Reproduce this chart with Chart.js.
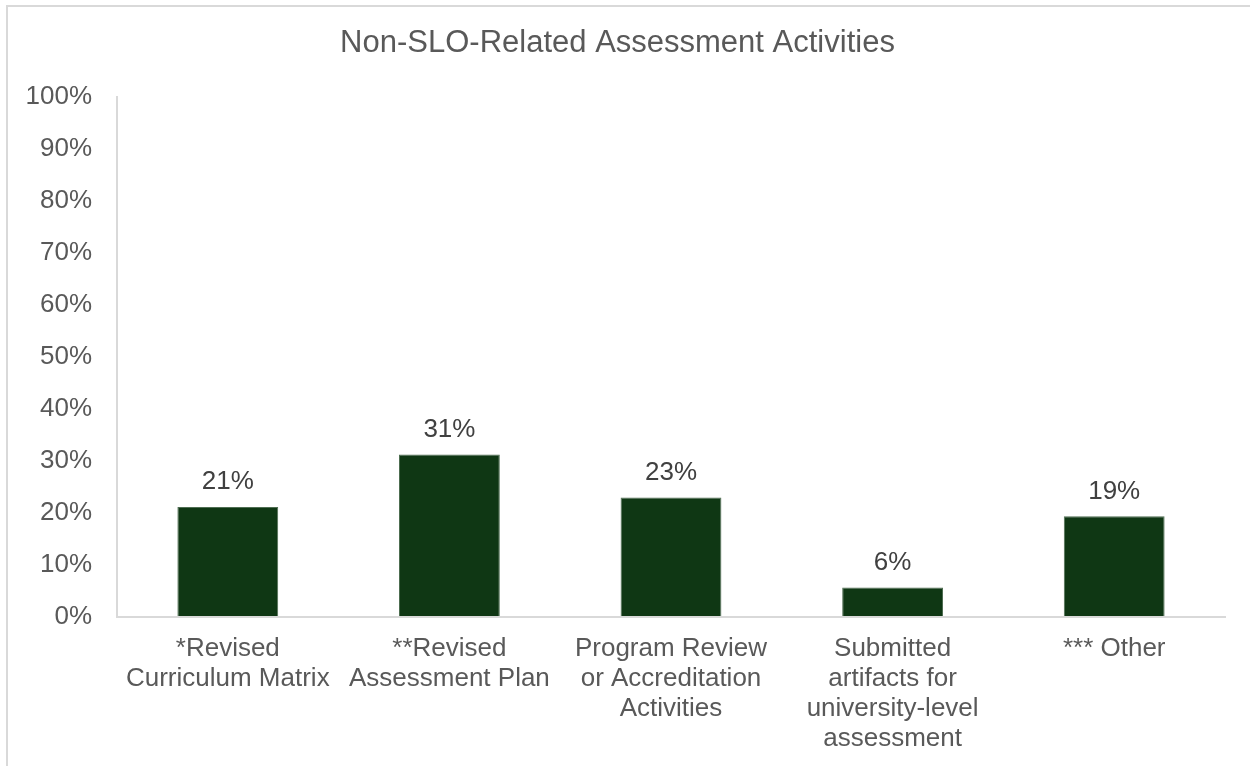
<!DOCTYPE html>
<html>
<head>
<meta charset="utf-8">
<script src="https://cdn.jsdelivr.net/npm/chart.js@4.4.1/dist/chart.umd.min.js"></script>
<style>
  html, body { margin: 0; padding: 0; background: #ffffff; overflow: hidden; }
  #wrap { position: relative; width: 1250px; height: 766px; overflow: hidden; }
  #frame {
    position: absolute; left: 6px; top: 5px; width: 1400px; height: 900px;
    border-left: 2px solid #d9d9d9; border-top: 2px solid #d9d9d9;
  }
  #chart { position: absolute; left: 0; top: 0; }
</style>
</head>
<body>
<div id="wrap">
  <div id="frame"></div>
  <canvas id="chart" width="1250" height="766"></canvas>
</div>
<script>
// Categories (multi-line axis labels)
const categories = [
  ["*Revised", "Curriculum Matrix"],
  ["**Revised", "Assessment Plan"],
  ["Program Review", "or Accreditation", "Activities"],
  ["Submitted", "artifacts for", "university-level", "assessment"],
  ["*** Other"]
];

// Share of programs reporting each activity (%)
const shares = [21.1, 31.2, 22.9, 5.6, 19.3];

// Y-axis range and step (%)
const yMin = 0;
const yMax = 100;
const yStep = 10;

const FONT = '"Liberation Sans", Arial, Helvetica, sans-serif';

// Percentage labels above each bar
const valueLabels = {
  id: 'valueLabels',
  afterDatasetsDraw(chart) {
    const ctx = chart.ctx;
    const meta = chart.getDatasetMeta(0);
    ctx.save();
    ctx.font = '26px ' + FONT;
    ctx.fillStyle = '#404040';
    ctx.textAlign = 'center';
    ctx.textBaseline = 'alphabetic';
    meta.data.forEach((bar, i) => {
      const v = chart.data.datasets[0].data[i];
      ctx.fillText(Math.round(v) + '%', bar.x, bar.y - 17.5);
    });
    ctx.restore();
  }
};

new Chart(document.getElementById('chart'), {
  type: 'bar',
  data: {
    labels: categories,
    datasets: [{
      data: shares,
      backgroundColor: '#0f3714',
      borderColor: '#4f6e52',
      borderWidth: 1,
      categoryPercentage: 1.0,
      barPercentage: 0.455
    }]
  },
  options: {
    responsive: false,
    animation: false,
    devicePixelRatio: 1,
    layout: { padding: { left: 10, right: 25, top: 0, bottom: 0 } },
    plugins: {
      legend: { display: false },
      tooltip: { enabled: false },
      title: {
        display: true,
        text: 'Non-SLO-Related Assessment Activities',
        color: '#595959',
        font: { family: FONT, size: 31, weight: 'normal', lineHeight: 1.2 },
        padding: { top: 25, bottom: 35 }
      }
    },
    scales: {
      x: {
        grid: { display: true, drawOnChartArea: false, drawTicks: false },
        border: { display: true, color: '#d9d9d9', width: 2 },
        ticks: {
          color: '#595959',
          font: { family: FONT, size: 26, lineHeight: 1.154 },
          padding: 17,
          maxRotation: 0,
          minRotation: 0,
          autoSkip: false
        },
        afterFit(scale) { scale.height = 149.5; }
      },
      y: {
        min: yMin,
        max: yMax,
        grid: { display: true, drawOnChartArea: false, drawTicks: false },
        border: { display: true, color: '#d9d9d9', width: 2 },
        ticks: {
          stepSize: yStep,
          color: '#595959',
          font: { family: FONT, size: 26 },
          padding: 25,
          callback: (v) => v + '%'
        },
        afterFit(scale) { scale.width = 107; }
      }
    }
  },
  plugins: [valueLabels]
});
</script>
</body>
</html>
